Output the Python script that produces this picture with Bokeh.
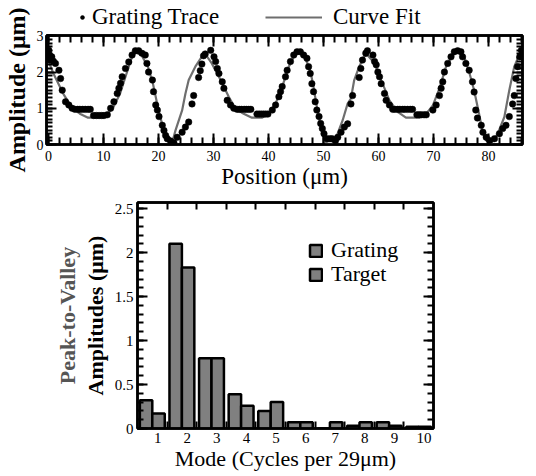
import numpy as np
from bokeh.embed import file_html
from bokeh.layouts import column, row
from bokeh.models import (FixedTicker, Legend, LegendItem, LinearAxis, Range1d,
                          SingleIntervalTicker)
from bokeh.plotting import figure
from bokeh.resources import INLINE

FONT = "Liberation Serif"

# ---- grating trace (measured points) ----
trace_x = [0.05, 0.15, 0.3, 0.6, 0.9, 1.27, 1.9, 2.2, 2.5, 3.1, 3.7, 4.3, 4.8, 5.3, 5.7, 6.2, 6.7,
           7.2, 7.6, 8.2, 8.7, 9.2, 9.7, 10.1, 10.7, 11.3, 11.9, 12.5, 12.8, 13.1, 13.4, 14.0, 14.6,
           15.2, 15.8, 16.4, 17.0, 17.6, 17.9, 18.2, 18.9, 19.1, 19.5, 19.8, 20.1, 20.7, 21.0, 21.3,
           21.6, 22.2, 22.8,
           23.4, 24.3, 24.9, 25.5, 26.1, 26.4, 27.3, 27.6, 27.9, 28.2, 28.5, 29.5, 30.1, 30.4, 30.7,
           31.0, 31.6, 31.9, 32.5, 33.1, 33.7, 34.3, 34.7, 35.1, 35.6, 36.0, 36.4, 36.8, 37.9, 38.3,
           38.7, 39.1, 39.5, 39.9, 40.7, 41.3, 41.9, 42.2, 42.5, 43.1, 43.4, 44.0, 44.6, 45.2, 45.8,
           46.4, 47.0, 47.3, 47.6, 47.9, 48.2, 48.5, 48.8, 49.2, 49.5, 49.8, 50.1, 50.7, 51.2, 51.6,
           52.2,
           52.6, 53.2, 53.8, 54.4, 55.0, 55.3, 56.5, 56.8, 57.1, 57.7, 58.0, 59.0, 59.3, 59.6, 59.9,
           60.2, 60.5, 61.1, 61.4, 62.0, 62.6, 63.0, 63.5, 63.9, 64.4, 64.8, 65.3, 65.8, 66.2, 67.0,
           67.4, 67.8, 68.3, 68.7, 69.9, 70.5, 71.1, 71.4, 71.7, 72.0, 72.6, 73.2, 73.8, 74.4, 75.0,
           75.3, 75.9, 76.5, 77.1, 77.4, 77.7, 78.0, 78.7, 79.0, 79.6, 80.2, 81.1, 82.0, 82.6, 83.2,
           83.8, 84.4, 84.7, 85.0, 85.3, 85.7, 86.0]
trace_y = [2.6, 2.47, 2.33, 2.42, 2.3, 2.24, 2.05, 1.82, 1.5, 1.18, 1.09, 1.0, 0.97, 0.97, 0.97, 0.97,
           0.97, 0.97, 0.97, 0.8, 0.8, 0.8, 0.8, 0.8, 0.82, 1.0, 1.18, 1.41, 1.55, 1.69, 1.87, 2.1,
           2.28, 2.47, 2.59, 2.59, 2.52, 2.47, 2.24, 2.0, 1.78, 1.46, 1.09, 0.95, 0.77, 0.53, 0.39,
           0.25, 0.16, 0.1, 0.05,
           0.2, 0.34, 0.48, 0.62, 1.12, 1.35, 1.85, 2.04, 2.22, 2.45, 2.5, 2.6, 2.42, 2.29, 2.1,
           1.96, 1.73, 1.55, 1.22, 1.09, 1.0, 0.97, 0.97, 0.97, 0.97, 0.97, 0.97, 0.97, 0.84, 0.84,
           0.84, 0.84, 0.84, 0.84, 0.95, 1.09, 1.32, 1.46, 1.6, 1.87, 2.05, 2.29, 2.47, 2.56, 2.56,
           2.47, 2.38, 2.15, 1.96, 1.68, 1.46, 1.18, 0.95, 0.77, 0.58, 0.44, 0.3, 0.16, 0.16, 0.16,
           0.11,
           0.2, 0.34, 0.48, 0.57, 1.12, 1.35, 1.85, 2.1, 2.33, 2.52, 2.59, 2.47, 2.29, 2.2, 2.0,
           1.87, 1.68, 1.41, 1.22, 1.09, 0.97, 0.97, 0.97, 0.97, 0.97, 0.97, 0.97, 0.97, 0.97, 0.82,
           0.82, 0.82, 0.82, 0.82, 0.95, 1.09, 1.35, 1.55, 1.73, 2.0, 2.24, 2.42, 2.56, 2.59, 2.56,
           2.42, 2.24, 2.05, 1.73, 1.45, 0.95, 0.73, 0.53, 0.34, 0.2, 0.11, 0.16, 0.3, 0.44, 0.53,
           0.77, 1.12, 1.35, 1.82, 2.15, 2.42, 2.6]

# ---- curve fit ----
fit_x = [0, 0.9, 2.7, 4.2, 5.7, 7.2, 9.3, 10.5, 11.8, 13.0, 14.2, 15.1, 15.8, 16.9, 18.1, 19.0,
         19.9, 20.8, 21.7, 22.4, 23.1, 24.3, 24.9, 25.5, 26.7, 27.9, 28.5, 29.7, 31.3, 32.8, 34.0,
         35.5, 37.0, 38.8, 40.1, 41.3, 42.5, 43.7, 44.9, 45.5, 46.7, 47.6, 48.2, 48.8, 49.4, 50.0,
         50.6, 51.5, 52.2, 53.5, 54.4, 55.0, 55.6, 56.5, 57.4, 58.0, 59.3, 60.5, 62.0, 63.5, 65.0,
         67.4, 68.7, 69.9, 71.1, 72.3, 73.5, 74.4, 75.6, 76.5, 77.4, 78.3, 78.9, 79.6, 80.4, 81.7,
         82.9, 83.8, 84.7, 85.6, 86.2]
fit_y = [2.3, 1.96, 1.4, 1.03, 0.85, 0.74, 0.74, 0.8, 1.03, 1.4, 1.96, 2.38, 2.54, 2.47, 2.14, 1.68,
         1.03, 0.48, 0.16, 0.0, 0.39, 0.94, 1.4, 1.78, 2.15, 2.43, 2.5, 2.24, 1.78, 1.31, 0.99,
         0.85, 0.74, 0.74, 0.85, 1.13, 1.59, 2.15, 2.52, 2.56, 2.38, 2.05, 1.59, 1.04, 0.58, 0.21,
         0.03, 0.0, 0.15, 0.67, 1.13, 1.27, 1.78, 2.15, 2.43, 2.47, 2.24, 1.78, 1.22, 0.9, 0.74,
         0.74, 0.85, 1.08, 1.55, 2.15, 2.47, 2.56, 2.43, 2.0, 1.5, 0.85, 0.39, 0.11, 0.0, 0.3,
         0.76, 1.5, 2.15, 2.47, 2.55]

# ---- mode spectrum ----
modes = [1, 2, 3, 4, 5, 6, 7, 8, 9, 10]
grating_amp = [0.32, 2.10, 0.80, 0.39, 0.20, 0.07, 0.0, 0.03, 0.07, 0.02]
target_amp = [0.17, 1.83, 0.80, 0.26, 0.30, 0.07, 0.07, 0.07, 0.03, 0.02]

assert len(trace_x) == len(trace_y) and len(fit_x) == len(fit_y)

DOT_STYLE = dict(size=6.5, fill_color="black", line_color="black", line_width=0.5)
FIT_STYLE = dict(line_color="#6e6e6e", line_width=2.2)


def style_axis(ax, major_in, minor_in, label_size=None, standoff=0):
    ax.axis_line_width = 2.5
    ax.axis_line_color = "black"
    ax.major_tick_in = major_in
    ax.major_tick_out = 0
    ax.minor_tick_in = minor_in
    ax.minor_tick_out = 0
    ax.major_tick_line_width = 2
    ax.minor_tick_line_width = 2
    ax.major_tick_line_color = "black"
    ax.minor_tick_line_color = "black"
    ax.major_label_text_font = FONT
    ax.major_label_text_color = "black"
    ax.axis_label_text_font = FONT
    ax.axis_label_text_color = "black"
    ax.axis_label_text_font_style = "normal"
    if label_size:
        ax.major_label_text_font_size = label_size
        ax.major_label_standoff = standoff
    else:
        # tick marks only: labels are not painted and take no room
        ax.major_label_text_font_size = "1px"
        ax.major_label_text_alpha = 0
        ax.major_label_standoff = 0


def title_axis(label, size, standoff, color="black"):
    # an axis that carries only a title: no line, ticks or tick labels
    ax = LinearAxis(ticker=FixedTicker(ticks=[]), axis_label=label)
    style_axis(ax, 0, 0)
    ax.axis_line_color = None
    ax.axis_label_text_font_size = size
    ax.axis_label_text_font_style = "bold"
    ax.axis_label_text_color = color
    ax.axis_label_standoff = standoff
    return ax


def no_frame_align(p):
    if "frame_align" in p.properties():
        p.frame_align = False


def bare_figure(width, height, **kw):
    p = figure(width=width, height=height, x_range=Range1d(0, 1), y_range=Range1d(0, 1),
               x_axis_type=None, y_axis_type=None, output_backend="svg",
               toolbar_location=None, outline_line_color=None, **kw)
    no_frame_align(p)
    p.grid.visible = False
    return p


def legend(items, loc, glyph_w, glyph_h, standoff, size="23px"):
    return Legend(items=items, location=loc, glyph_width=glyph_w, glyph_height=glyph_h,
                  label_standoff=standoff, padding=0, margin=0, border_line_alpha=0,
                  background_fill_alpha=0, label_text_font=FONT, label_text_font_size=size,
                  label_text_color="black")


# ================= y title of the trace =================
pL = bare_figure(31, 196, min_border_left=30, min_border_right=0,
                 min_border_top=35, min_border_bottom=52)
pL.add_layout(title_axis("Amplitude (μm)", "24px", 2), "left")

# ================= key strip above the trace =================
p0 = bare_figure(505, 30, min_border=0)
# legend keys: styled like the trace glyphs, holding a sample that lies outside this strip's view
dot_key = p0.scatter(x=trace_x[:1], y=trace_y[:1], **DOT_STYLE)
fit_key = p0.line(x=fit_x[:2], y=fit_y[:2], **FIT_STYLE)
p0.add_layout(legend([LegendItem(label="Grating Trace", renderers=[dot_key])], (46, 0), 10, 20, 5))
p0.add_layout(legend([LegendItem(label="Curve Fit", renderers=[fit_key])], (234, 0), 57, 20, 11))

# ================= position trace =================
p1 = figure(width=505, height=166, x_range=Range1d(-0.36, 86.2), y_range=Range1d(0, 3.01),
            x_axis_type=None, y_axis_type=None, output_backend="svg", toolbar_location=None,
            min_border_left=15, min_border_right=14, min_border_top=5, min_border_bottom=52)
no_frame_align(p1)
p1.grid.visible = False
p1.outline_line_color = "black"
p1.outline_line_width = 2.5

xt1 = SingleIntervalTicker(interval=10, num_minor_ticks=5)
yt1 = SingleIntervalTicker(interval=1, num_minor_ticks=10)

x_bottom = LinearAxis(ticker=xt1, axis_label="Position (μm)")
style_axis(x_bottom, 11, 7, "14px", 6)
x_bottom.axis_label_text_font_size = "23px"
x_bottom.axis_label_standoff = 0
p1.add_layout(x_bottom, "below")

x_top = LinearAxis(ticker=xt1)
style_axis(x_top, 11, 7)
p1.add_layout(x_top, "above")

y_left = LinearAxis(ticker=yt1)
style_axis(y_left, 10, 6, "14px", 3)
p1.add_layout(y_left, "left")

y_right = LinearAxis(ticker=yt1)
style_axis(y_right, 10, 6)
p1.add_layout(y_right, "right")

p1.line(fit_x, fit_y, **FIT_STYLE)
p1.scatter(trace_x, trace_y, **DOT_STYLE)

# ================= mode spectrum =================
p2 = figure(width=536, height=280, x_range=Range1d(0.32, 10.32), y_range=Range1d(0, 2.57),
            x_axis_type=None, y_axis_type=None, output_backend="svg", toolbar_location=None,
            min_border_left=137, min_border_right=103, min_border_top=6, min_border_bottom=48)
no_frame_align(p2)
p2.grid.visible = False
p2.outline_line_color = "black"
p2.outline_line_width = 2.5

mode_arr = np.array(modes, dtype=float)
bar_w = 0.42
pair_center = mode_arr - 0.18
boundaries = [m + 0.32 for m in modes[:-1]]

xt2 = FixedTicker(ticks=modes, minor_ticks=boundaries)
yt2 = SingleIntervalTicker(interval=0.5, num_minor_ticks=5)

m_bottom = LinearAxis(ticker=xt2, axis_label="Mode (Cycles per 29μm)")
style_axis(m_bottom, 0, 7, "15px", 4)
m_bottom.axis_label_text_font_size = "22px"
m_bottom.axis_label_standoff = 0
p2.add_layout(m_bottom, "below")

m_top = LinearAxis(ticker=xt2)
style_axis(m_top, 0, 7)
p2.add_layout(m_top, "above")

a_left = LinearAxis(ticker=yt2, axis_label="Amplitudes (μm)")
style_axis(a_left, 10, 6, "15px", 4)
a_left.major_label_overrides = {0: "0", 0.5: "0.5", 1: "1", 1.5: "1.5", 2: "2", 2.5: "2.5"}
a_left.axis_label_text_font_size = "22px"
a_left.axis_label_text_font_style = "bold"
a_left.axis_label_standoff = 4
p2.add_layout(a_left, "left")

# outer line of the two-line y title
p2.add_layout(title_axis("Peak-to-Valley", "22px", 0, color="#555555"), "left")

a_right = LinearAxis(ticker=yt2)
style_axis(a_right, 10, 6)
p2.add_layout(a_right, "right")

bar_style = dict(width=bar_w, bottom=0, fill_color="#808080", line_color="black", line_width=2.5)
g_r = p2.vbar(x=pair_center - bar_w / 2, top=grating_amp, **bar_style)
t_r = p2.vbar(x=pair_center + bar_w / 2, top=target_amp, **bar_style)

p2.add_layout(legend([LegendItem(label="Grating", renderers=[g_r])], (171, 165), 15, 15, 8, "22px"))
p2.add_layout(legend([LegendItem(label="Target", renderers=[t_r])], (171, 141), 15, 15, 8, "22px"))

layout = column(row(pL, column(p0, p1, spacing=0), spacing=0), p2, spacing=0)
open("out.html", "w").write(file_html(layout, INLINE))
